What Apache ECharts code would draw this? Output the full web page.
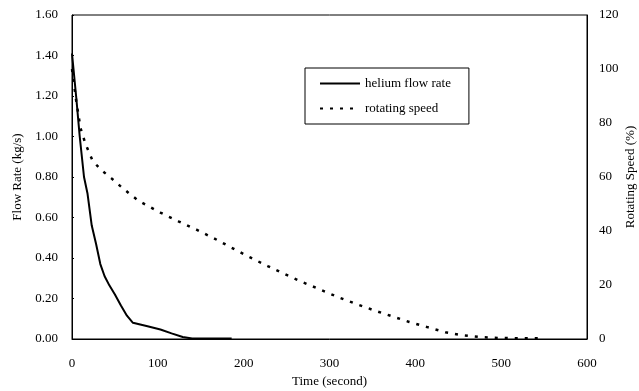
<!DOCTYPE html>
<html>
<head>
<meta charset="utf-8">
<script src="https://cdn.jsdelivr.net/npm/echarts@6/dist/echarts.min.js"></script>
<style>
  html, body { margin: 0; padding: 0; background: #fff; }
  #main { width: 639px; height: 391px; }
</style>
</head>
<body>
<div id="main"></div>
<script>
// time (s), flow rate (kg/s)
const flowTime = [0, 5, 9, 14, 18, 23, 28, 33, 38, 43.5, 50, 57, 64, 71, 88, 103, 116, 129, 140, 186];
const flowRate = [1.41, 1.19, 1.0, 0.8, 0.72, 0.56, 0.47, 0.37, 0.31, 0.265, 0.22, 0.165, 0.115, 0.08, 0.063, 0.047, 0.028, 0.01, 0.003, 0.002];

// time (s), rotating speed (%)
const speedTime = [0, 5, 10, 16, 24, 34, 46, 56, 67, 78, 103, 124, 145, 166, 186, 207, 228, 248, 269, 290, 310, 331, 352, 373, 393, 414, 435, 455, 476, 497, 518, 548];
const speedPct = [100, 88, 78, 72, 66, 62.6, 59.5, 56.7, 53.8, 51.1, 46.8, 43.6, 40.5, 37.2, 33.8, 30.3, 27, 24, 21, 18.2, 15.5, 13, 10.6, 8.4, 6.3, 4.4, 2.5, 1.4, 0.7, 0.4, 0.3, 0.3];

const xTicks = { min: 0, max: 600, step: 100 };
const leftTicks = { min: 0, max: 1.6, step: 0.2 };
const rightTicks = { min: 0, max: 120, step: 20 };

const font = 'Liberation Serif';

const chart = echarts.init(document.getElementById('main'));
chart.setOption({
  animation: false,
  textStyle: { fontFamily: font, color: '#000' },
  grid: {
    left: 72, right: 52, top: 15, bottom: 52,
    outerBoundsMode: 'none',
    containLabel: false,
    show: true, borderColor: '#000', borderWidth: 1
  },
  legend: {
    orient: 'vertical',
    left: 305, top: 68,
    padding: [9, 18, 9, 14],
    itemGap: 12,
    itemWidth: 40,
    itemHeight: 10,
    borderColor: '#000',
    borderWidth: 1,
    itemStyle: { opacity: 0 },
    textStyle: { fontFamily: font, fontSize: 13, color: '#000' },
    data: ['helium flow rate', 'rotating speed']
  },
  xAxis: {
    type: 'value',
    min: xTicks.min, max: xTicks.max, interval: xTicks.step,
    name: 'Time (second)',
    nameLocation: 'middle',
    nameGap: 36,
    nameMoveOverlap: false,
    nameTextStyle: { fontFamily: font, fontSize: 13, color: '#000' },
    axisLine: { lineStyle: { color: '#000' } },
    axisTick: { show: false },
    splitLine: { show: false },
    axisLabel: { fontFamily: font, fontSize: 13, color: '#000', margin: 18 }
  },
  yAxis: [
    {
      type: 'value',
      min: leftTicks.min, max: leftTicks.max, interval: leftTicks.step,
      name: 'Flow Rate (kg/s)',
      nameLocation: 'middle',
      nameGap: 48,
      nameMoveOverlap: false,
      nameTextStyle: { fontFamily: font, fontSize: 13, color: '#000' },
      axisLine: { show: true, lineStyle: { color: '#000' } },
      axisTick: { show: true, inside: true, length: 2, lineStyle: { color: '#000' } },
      splitLine: { show: false },
      axisLabel: { fontFamily: font, fontSize: 13, color: '#000', margin: 14,
        formatter: v => v.toFixed(2) }
    },
    {
      type: 'value',
      min: rightTicks.min, max: rightTicks.max, interval: rightTicks.step,
      name: 'Rotating Speed (%)',
      nameLocation: 'middle',
      nameGap: 37,
      nameRotate: 90,
      nameMoveOverlap: false,
      nameTextStyle: { fontFamily: font, fontSize: 13, color: '#000' },
      axisLine: { show: true, lineStyle: { color: '#000' } },
      axisTick: { show: false },
      splitLine: { show: false },
      axisLabel: { fontFamily: font, fontSize: 13, color: '#000', margin: 12 }
    }
  ],
  series: [
    {
      name: 'helium flow rate',
      type: 'line',
      yAxisIndex: 0,
      symbol: 'none',
      color: '#000',
      lineStyle: { color: '#000', width: 2 },
      data: flowTime.map((t, i) => [t, flowRate[i]])
    },
    {
      name: 'rotating speed',
      type: 'line',
      yAxisIndex: 1,
      symbol: 'none',
      color: '#000',
      lineStyle: { color: '#000', width: 2.5, type: [3, 7] },
      data: speedTime.map((t, i) => [t, speedPct[i]])
    }
  ]
});
</script>
</body>
</html>
